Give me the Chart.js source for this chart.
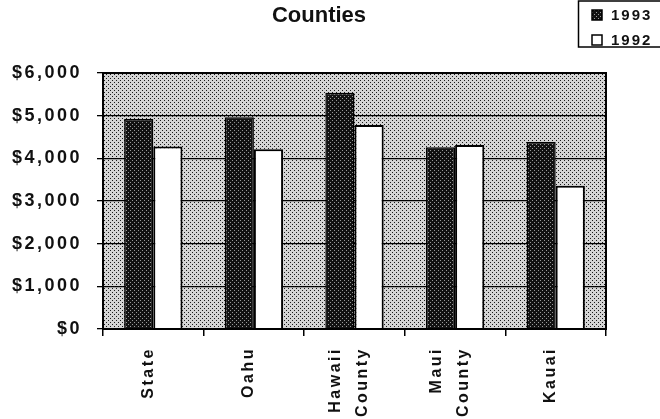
<!DOCTYPE html>
<html>
<head>
<meta charset="utf-8">
<script src="https://cdn.jsdelivr.net/npm/chart.js@4"></script>
<style>
  body { margin: 0; background: #fff; }
  #wrap { width: 660px; height: 419px; position: relative; }
</style>
</head>
<body>
<div id="wrap"><canvas id="chart"></canvas></div>
<script>
const categories = [['State'], ['Oahu'], ['Hawaii', 'County'], ['Maui', 'County'], ['Kauai']];
const values1993 = [4920, 4960, 5540, 4260, 4380];
const values1992 = [4280, 4210, 4780, 4310, 3360];
const seriesLabels = ['1993', '1992'];
const chartTitle = 'Counties';
const yMin = 0, yMax = 6000, yStep = 1000;

const FONT = '"Liberation Sans", Arial, sans-serif';

// little stipple tiles, like the old screened print
function makePattern(base, dot, dots) {
  const c = document.createElement('canvas');
  c.width = 4; c.height = 4;
  const g = c.getContext('2d');
  g.fillStyle = base;
  g.fillRect(0, 0, 4, 4);
  g.fillStyle = dot;
  dots.forEach(p => g.fillRect(p[0], p[1], 1, 1));
  return g.createPattern(c, 'repeat');
}
const bgPattern = makePattern('#d4d4d4', '#1a1a1a', [[0, 0], [2, 2]]);
const darkPattern = makePattern('#121212', '#9a9a9a', [[0, 0], [2, 2]]);

const decor = {
  id: 'decor',
  beforeDraw(chart) {
    const { ctx, chartArea: a } = chart;
    ctx.letterSpacing = '2.5px';
    ctx.save();
    ctx.fillStyle = bgPattern;
    ctx.fillRect(a.left, a.top, a.right - a.left, a.bottom - a.top);
    ctx.restore();
  },
  afterDraw(chart) {
    const { ctx, chartArea: a } = chart;
    ctx.save();
    // frame round the plot
    ctx.strokeStyle = '#000';
    ctx.lineWidth = 2;
    ctx.strokeRect(a.left, a.top, a.right - a.left, a.bottom - a.top);

    // title (sits left of centre in the original)
    ctx.letterSpacing = '0px';
    ctx.fillStyle = '#111';
    ctx.font = 'bold 22px ' + FONT;
    ctx.textAlign = 'center';
    ctx.textBaseline = 'middle';
    ctx.fillText(chartTitle, 319, 16);

    // legend box top right
    ctx.lineWidth = 1.5;
    ctx.strokeRect(578.5, 1, 90, 46);
    ctx.letterSpacing = '2px';
    ctx.font = 'bold 15px ' + FONT;
    ctx.textAlign = 'left';
    chart.data.datasets.forEach((ds, i) => {
      const y = 15 + i * 25;
      ctx.fillStyle = ds.backgroundColor;
      ctx.fillRect(592, y - 5, 10, 10);
      ctx.lineWidth = 1.5;
      ctx.strokeRect(592, y - 5, 10, 10);
      ctx.fillStyle = '#111';
      ctx.fillText(ds.label, 611, y + 1);
    });
    ctx.restore();
  }
};

// rotated labels stack lines to one side, so pad them to keep each label centred
function xLabel(value, index) {
  const c = categories[index];
  return c.length === 1 ? ['', c[0]] : [c[0], '', c[1]];
}

new Chart(document.getElementById('chart'), {
  type: 'bar',
  data: {
    labels: categories,
    datasets: [
      {
        label: seriesLabels[0],
        data: values1993,
        backgroundColor: darkPattern,
        borderColor: '#000',
        borderWidth: 1.5,
        categoryPercentage: 0.58,
        barPercentage: 1
      },
      {
        label: seriesLabels[1],
        data: values1992,
        backgroundColor: '#fff',
        borderColor: '#000',
        borderWidth: 2,
        categoryPercentage: 0.58,
        barPercentage: 1
      }
    ]
  },
  options: {
    responsive: true,
    maintainAspectRatio: false,
    animation: false,
    layout: { padding: { top: 73, right: 54, left: 0, bottom: 0 } },
    plugins: {
      legend: { display: false },
      title: { display: false },
      tooltip: { enabled: false }
    },
    scales: {
      x: {
        grid: { drawOnChartArea: false, color: '#000', tickLength: 7, lineWidth: 1.5 },
        border: { display: true, color: '#000', width: 2 },
        ticks: {
          color: '#111',
          font: { family: FONT, size: 16, weight: 'bold', lineHeight: '13.5px' },
          minRotation: 90,
          maxRotation: 90,
          padding: 11,
          labelOffset: -18.5,
          callback: xLabel
        },
        afterFit(scale) { scale.height = 90; }
      },
      y: {
        min: yMin,
        max: yMax,
        grid: { color: '#000', lineWidth: 1.3, tickLength: 6 },
        border: { display: true, color: '#000', width: 2 },
        ticks: {
          stepSize: yStep,
          color: '#111',
          padding: 15,
          font: { family: FONT, size: 18, weight: 'bold' },
          callback: v => '$' + v.toLocaleString('en-US')
        },
        afterFit(scale) { scale.width = 103; }
      }
    }
  },
  plugins: [decor]
});
</script>
</body>
</html>
